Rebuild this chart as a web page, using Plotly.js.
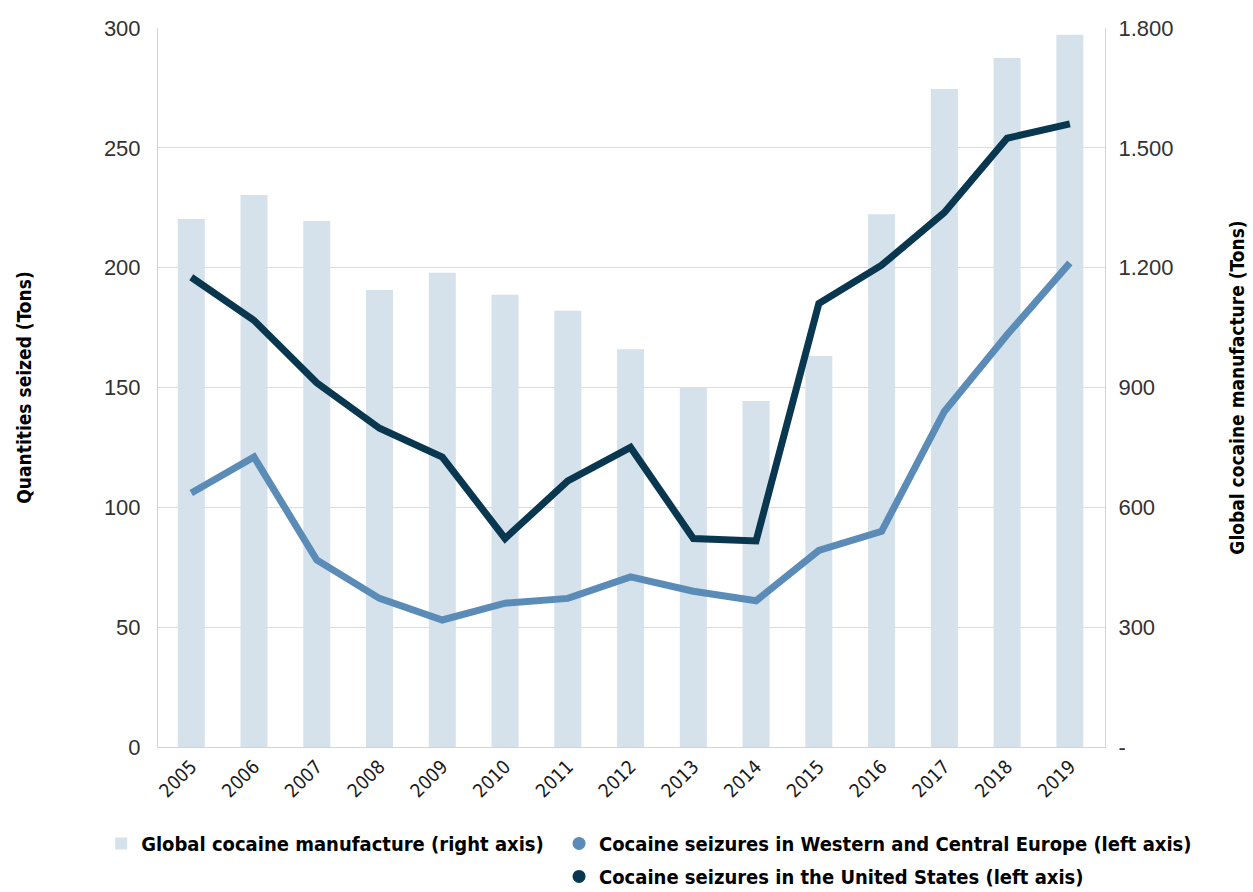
<!DOCTYPE html>
<html>
<head>
<meta charset="utf-8">
<script src="https://cdn.plot.ly/plotly-3.0.1.min.js"></script>
<style>html,body{margin:0;padding:0;background:#fff;}#chart{width:1253px;height:892px;}</style>
</head>
<body>
<div id="chart"></div>
<script>
const years = ['2005','2006','2007','2008','2009','2010','2011','2012','2013','2014','2015','2016','2017','2018','2019'];
const globalManufacture = [1322, 1382, 1317, 1144, 1187, 1132, 1092, 996, 901, 866, 979, 1334, 1647, 1725, 1783];
const europeSeizures = [106, 121, 78, 62, 53, 60, 62, 71, 65, 61, 82, 90, 140, 172, 202];
const usSeizures = [196, 178, 152, 133, 121, 87, 111, 125, 87, 86, 185, 201, 223, 254, 260];
const leftTicks = [0, 50, 100, 150, 200, 250, 300];
const rightTicks = [0, 300, 600, 900, 1200, 1500, 1800];
const rightTickText = ['-', '300', '600', '900', '1.200', '1.500', '1.800'];

const barColor = '#d5e1eb';
const euColor = '#5b8cb8';
const usColor = '#09374f';
const condFont = '"Liberation Sans Narrow", "DejaVu Sans Condensed", "Roboto", sans-serif';
const tickFont = '"Liberation Sans", Arial, sans-serif';

// bars on the primary (right-side) axis, lines on the overlaying left axis so they are drawn above the bars
const traces = [
  {type: 'bar', x: years, y: globalManufacture, yaxis: 'y', name: 'Global cocaine manufacture (right axis)',
   marker: {color: barColor}, legend: 'legend'},
  {type: 'scatter', mode: 'lines', x: years, y: europeSeizures, yaxis: 'y2', name: 'Cocaine seizures in Western and Central Europe (left axis)',
   line: {color: euColor, width: 7}, showlegend: false, legendgroup: 'eu'},
  {type: 'scatter', mode: 'lines', x: years, y: usSeizures, yaxis: 'y2', name: 'Cocaine seizures in the United States (left axis)',
   line: {color: usColor, width: 7}, showlegend: false, legendgroup: 'us'},
  {type: 'scatter', mode: 'markers', x: [null], y: [null], yaxis: 'y2', name: 'Cocaine seizures in Western and Central Europe (left axis)',
   marker: {color: euColor, size: 13}, legend: 'legend2', legendgroup: 'eu'},
  {type: 'scatter', mode: 'markers', x: [null], y: [null], yaxis: 'y2', name: 'Cocaine seizures in the United States (left axis)',
   marker: {color: usColor, size: 13}, legend: 'legend2', legendgroup: 'us'}
];

const layout = {
  width: 1253, height: 892,
  margin: {l: 158, r: 148, t: 28, b: 145, autoexpand: false},
  paper_bgcolor: '#fff', plot_bgcolor: '#fff',
  bargap: 0.57,
  xaxis: {
    type: 'category', range: [-0.53, 14.56], tickangle: -45, automargin: false,
    tickfont: {family: condFont, size: 19, color: '#1a1a1a'},
    showline: true, linecolor: '#d4d4d4', linewidth: 1, showgrid: false, ticks: '', fixedrange: true
  },
  yaxis: {
    range: [0, 1800], side: 'right', tickvals: rightTicks, ticktext: rightTickText, automargin: false,
    ticks: '', ticklabelstandoff: 8, showgrid: true, gridcolor: '#dcdcdc', gridwidth: 1, zeroline: false,
    showline: true, linecolor: '#d4d4d4', linewidth: 1,
    tickfont: {family: tickFont, size: 22, color: '#333'},
    title: {text: 'Global cocaine manufacture (Tons)', font: {family: condFont, size: 19, color: '#000', weight: 'bold'}, standoff: 58}
  },
  yaxis2: {
    range: [0, 300], overlaying: 'y', side: 'left', tickvals: leftTicks, ticks: '', ticklabelstandoff: 12, automargin: false,
    tickfont: {family: tickFont, size: 22, color: '#333'},
    showgrid: false, zeroline: false,
    showline: true, linecolor: '#d4d4d4', linewidth: 1,
    title: {text: 'Quantities seized (Tons)', font: {family: condFont, size: 19, color: '#000', weight: 'bold'}, standoff: 67}
  },
  legend: {
    orientation: 'v', x: -0.060, xanchor: 'left', y: -0.107, yanchor: 'top',
    font: {family: condFont, size: 20, color: '#000', weight: 'bold'}, bgcolor: 'rgba(0,0,0,0)'
  },
  legend2: {
    orientation: 'v', x: 0.4235, xanchor: 'left', y: -0.107, yanchor: 'top',
    font: {family: condFont, size: 20, color: '#000', weight: 'bold'}, bgcolor: 'rgba(0,0,0,0)',
    tracegroupgap: 4
  },
  showlegend: true
};

Plotly.newPlot('chart', traces, layout, {displayModeBar: false, staticPlot: true});
</script>
</body>
</html>
